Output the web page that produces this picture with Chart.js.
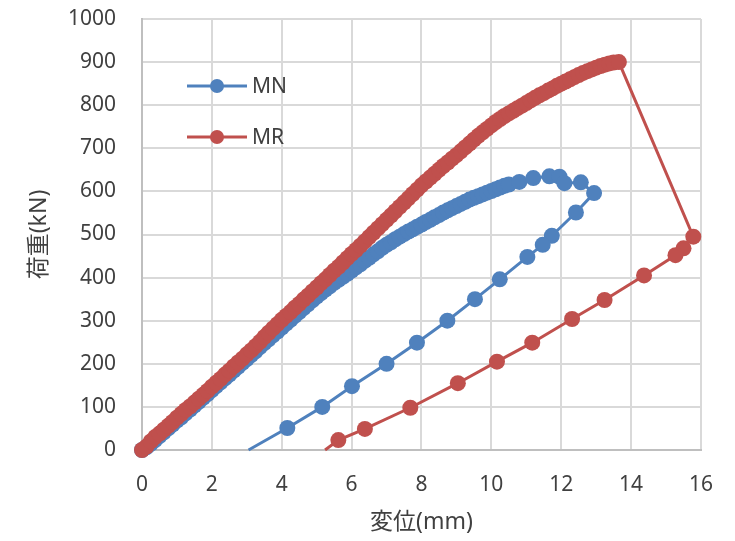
<!DOCTYPE html>
<html>
<head>
<meta charset="utf-8">
<script src="https://cdn.jsdelivr.net/npm/chart.js@4.4.1/dist/chart.umd.min.js"></script>
<style>
html, body { margin: 0; padding: 0; background: #fff; }
#wrap { width: 735px; height: 541px; }
</style>
</head>
<body>
<div id="wrap"><canvas id="loadChart" width="735" height="541"></canvas></div>
<script>
// 変位 (mm) / 荷重 (kN)
// MN: loading branch (dense logger samples), then unloading branch
const mnX = [0, 0.125, 0.25, 0.375, 0.5, 0.625, 0.75, 0.875, 1.0, 1.125, 1.25, 1.375, 1.5, 1.625, 1.75, 1.875,
    2.0, 2.125, 2.25, 2.375, 2.5, 2.625, 2.75, 2.875, 3.0, 3.125, 3.25, 3.375, 3.5, 3.625, 3.75, 3.875,
    4.0, 4.125, 4.25, 4.375, 4.5, 4.625, 4.75, 4.875, 5.0, 5.125, 5.25, 5.375, 5.5, 5.625, 5.75, 5.875,
    6.0, 6.125, 6.25, 6.375, 6.5, 6.625, 6.75, 6.875, 7.0, 7.125, 7.25, 7.375, 7.5, 7.625, 7.75, 7.875,
    8.0, 8.125, 8.25, 8.375, 8.5, 8.625, 8.75, 8.875, 9.0, 9.125, 9.25, 9.375, 9.5, 9.625, 9.75, 9.875,
    10.0, 10.125, 10.25, 10.375, 10.5, 10.8, 11.2, 11.66, 11.95, 12.09, 12.56, 12.94,
    12.42, 11.73, 11.47, 11.03, 10.24, 9.53, 8.74, 7.87, 7.0, 6.01, 5.16, 4.16, 3.05];
const mnY = [0, 6, 14, 23, 32, 41, 50, 59, 68, 76, 85, 94, 103, 112, 121, 130,
    139, 148, 157, 166, 175, 184, 193, 202, 211, 220, 229, 239, 248, 257, 266, 275,
    284, 293, 302, 311, 320, 329, 338, 347, 356, 364, 372, 380, 388, 395, 402, 409,
    416, 424, 431, 439, 446, 454, 461, 469, 476, 482, 489, 495, 501, 507, 512, 518,
    523, 529, 534, 540, 545, 551, 556, 561, 566, 571, 576, 581, 585, 589, 593, 597,
    601, 605, 609, 613, 616, 622, 631, 635, 634, 619, 621, 596,
    551, 497, 476, 448, 396, 350, 300, 249, 200, 148, 100, 51, 0];

// MR: loading branch up to the peak, drop, then unloading branch
const mrX = [0, 0.125, 0.25, 0.375, 0.5, 0.625, 0.75, 0.875, 1.0, 1.125, 1.25, 1.375, 1.5, 1.625, 1.75, 1.875,
    2.0, 2.125, 2.25, 2.375, 2.5, 2.625, 2.75, 2.875, 3.0, 3.125, 3.25, 3.375, 3.5, 3.625, 3.75, 3.875,
    4.0, 4.125, 4.25, 4.375, 4.5, 4.625, 4.75, 4.875, 5.0, 5.125, 5.25, 5.375, 5.5, 5.625, 5.75, 5.875,
    6.0, 6.125, 6.25, 6.375, 6.5, 6.625, 6.75, 6.875, 7.0, 7.125, 7.25, 7.375, 7.5, 7.625, 7.75, 7.875,
    8.0, 8.125, 8.25, 8.375, 8.5, 8.625, 8.75, 8.875, 9.0, 9.125, 9.25, 9.375, 9.5, 9.625, 9.75, 9.875,
    10.0, 10.125, 10.25, 10.375, 10.5, 10.625, 10.75, 10.875, 11.0, 11.125, 11.25, 11.375, 11.5, 11.625, 11.75, 11.875,
    12.0, 12.125, 12.25, 12.375, 12.5, 12.625, 12.75, 12.875, 13.0, 13.125, 13.25, 13.375, 13.5, 13.65,
    15.78, 15.5, 15.27, 14.37, 13.24, 12.31, 11.17, 10.16, 9.04, 7.68, 6.38, 5.62, 5.24];
const mrY = [0, 8, 20, 30, 38, 47, 56, 65, 75, 84, 93, 101, 110, 119, 128, 137,
    147, 156, 165, 175, 184, 194, 203, 212, 222, 231, 241, 251, 262, 272, 282, 292,
    302, 311, 320, 330, 339, 349, 358, 368, 377, 387, 396, 406, 416, 425, 435, 445,
    455, 464, 474, 484, 494, 504, 514, 524, 534, 544, 554, 564, 574, 584, 594, 604,
    614, 623, 632, 641, 650, 659, 667, 676, 684, 693, 702, 711, 720, 729, 737, 745,
    753, 761, 768, 775, 781, 787, 793, 799, 805, 811, 817, 823, 828, 834, 839, 845,
    850, 855, 860, 865, 870, 875, 879, 883, 887, 891, 894, 897, 899, 900,
    495, 468, 452, 405, 348, 304, 249, 205, 155, 98, 49, 23, 0];

const seriesNames = ['MN', 'MR'];
const seriesColors = ['#4F81BD', '#C0504D'];

const xTicks = { min: 0, max: 16, step: 2 };
const yTicks = { min: 0, max: 1000, step: 100 };

const fontFamily = "'Noto Sans', 'Noto Sans CJK JP', sans-serif";
const textColor = '#404040';

function toPoints(xs, ys) {
    return xs.map((x, i) => ({ x: x, y: ys[i] }));
}

// last point of each unloading branch has no marker
function markerRadius(ctx) {
    return ctx.dataIndex === ctx.dataset.data.length - 1 ? 0 : 8;
}

const insideLegend = {
    id: 'insideLegend',
    afterDraw(chart) {
        const ctx = chart.ctx;
        const rows = [86, 137];
        ctx.save();
        chart.data.datasets.forEach((ds, i) => {
            const y = rows[i];
            ctx.strokeStyle = ds.borderColor;
            ctx.lineWidth = 3;
            ctx.beginPath();
            ctx.moveTo(187, y);
            ctx.lineTo(247, y);
            ctx.stroke();
            ctx.fillStyle = ds.backgroundColor;
            ctx.beginPath();
            ctx.arc(217, y, 7, 0, Math.PI * 2);
            ctx.fill();
            ctx.fillStyle = textColor;
            ctx.font = '21px ' + fontFamily;
            ctx.textAlign = 'left';
            ctx.textBaseline = 'middle';
            ctx.fillText(ds.label, 252, y + 1);
        });
        ctx.restore();
    }
};

const datasets = [
    { label: seriesNames[0], data: toPoints(mnX, mnY), order: 1 },
    { label: seriesNames[1], data: toPoints(mrX, mrY), order: 0 }
].map((ds, i) => Object.assign(ds, {
    showLine: true,
    borderColor: seriesColors[i],
    backgroundColor: seriesColors[i],
    borderWidth: 3,
    pointRadius: markerRadius,
    pointBorderWidth: 0,
    pointHoverRadius: markerRadius,
    clip: false
}));

new Chart(document.getElementById('loadChart').getContext('2d'), {
    type: 'scatter',
    data: { datasets: datasets },
    plugins: [insideLegend],
    options: {
        responsive: false,
        animation: false,
        layout: { padding: { top: 0, right: 31, bottom: 0, left: 0 } },
        plugins: {
            legend: { display: false },
            tooltip: { enabled: false }
        },
        scales: {
            x: {
                type: 'linear',
                min: xTicks.min,
                max: xTicks.max,
                afterFit: (scale) => { scale.height = 91; },
                ticks: {
                    stepSize: xTicks.step,
                    padding: 22,
                    color: textColor,
                    font: { family: fontFamily, size: 21 },
                    callback: (v) => String(v)
                },
                grid: { color: '#D9D9D9', lineWidth: 2, drawTicks: false },
                border: { color: '#BFBFBF', width: 2 },
                title: {
                    display: true,
                    text: '変位(mm)',
                    color: textColor,
                    font: { family: fontFamily, size: 23 },
                    padding: { top: 0, bottom: 5 }
                }
            },
            y: {
                type: 'linear',
                min: yTicks.min,
                max: yTicks.max,
                afterFit: (scale) => {
                    scale.width = 142;
                    scale.paddingTop = 19;
                    scale.paddingBottom = 0;
                },
                ticks: {
                    stepSize: yTicks.step,
                    padding: 26,
                    color: textColor,
                    font: { family: fontFamily, size: 21 },
                    callback: (v) => String(v)
                },
                grid: { color: '#D9D9D9', lineWidth: 2, drawTicks: false },
                border: { color: '#BFBFBF', width: 2 },
                title: {
                    display: true,
                    text: '荷重(kN)',
                    color: textColor,
                    font: { family: fontFamily, size: 23 },
                    padding: { top: 26, bottom: 0 }
                }
            }
        }
    }
});
</script>
</body>
</html>
